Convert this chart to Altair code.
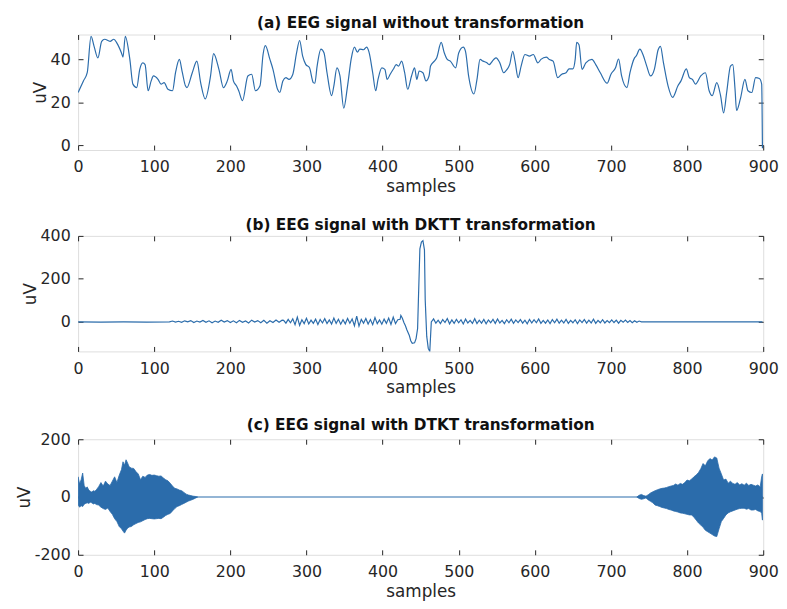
import altair as alt
import pandas as pd

FONT = "DejaVu Sans"
LINE = "#2b6cab"
INK = "#262626"
W, H = 694, 117

# ---------------- data ----------------
a_x = [0, 7, 12, 17, 21, 26, 31, 35, 42, 47, 51, 57, 59, 62, 68, 72, 77, 81, 85, 88,
       92, 96, 99, 105, 109, 113, 118, 124, 128, 133, 137, 141, 143, 150, 156, 161, 167, 174, 178, 185,
       191, 196, 201, 204, 208, 211, 216, 223, 228, 233, 239, 243, 246, 252, 256, 262, 265, 269, 273, 277,
       282, 287, 291, 295, 299, 304, 309, 311, 314, 319, 323, 327, 333, 336, 340, 344, 349, 354, 359, 363,
       367, 370, 375, 379, 382, 387, 391, 394, 399, 403, 406, 410, 414, 418, 421, 425, 429, 433, 438, 442,
       445, 448, 453, 457, 461, 463, 468, 471, 477, 481, 485, 489, 496, 500, 506, 509, 513, 520, 524, 528,
       532, 537, 540, 546, 549, 554, 559, 563, 567, 571, 574, 578, 582, 587, 593, 598, 604, 608, 615, 619,
       624, 630, 635, 641, 645, 650, 653, 655, 658, 662, 667, 675, 680, 686, 695, 700, 706, 710, 714, 721,
       725, 731, 733, 738, 742, 747, 752, 757, 762, 765, 769, 775, 781, 788, 792, 799, 803, 807, 811, 818,
       824, 829, 833, 839, 844, 848, 852, 857, 860, 863, 865, 870, 876, 880, 885, 890, 895, 898, 899]
a_y = [24.5, 29.9, 33.7, 50.6, 46.0, 40.6, 48.3, 49.3, 48.3, 49.3, 47.5, 42.9, 41.0, 50.6, 39.9, 28.4, 26.8, 35.3, 38.3, 37.5,
       25.3, 29.9, 32.2, 30.6, 28.4, 29.1, 26.0, 25.3, 33.7, 39.9, 33.7, 27.6, 26.8, 33.7, 39.1, 29.1, 21.5, 32.2, 42.6, 35.3,
       26.8, 29.9, 35.3, 29.9, 27.6, 25.3, 20.7, 32.2, 33.0, 25.3, 27.6, 42.2, 46.3, 39.9, 35.3, 26.0, 24.5, 29.9, 31.4, 30.6,
       32.9, 42.9, 48.7, 41.4, 37.6, 36.0, 29.1, 28.8, 36.8, 44.7, 43.0, 33.7, 23.0, 27.6, 36.0, 32.2, 17.2, 27.6, 40.6, 45.6,
       43.3, 44.7, 44.4, 45.6, 43.5, 33.7, 25.3, 30.6, 36.0, 35.3, 30.6, 33.0, 35.3, 37.5, 36.8, 39.1, 33.7, 26.0, 32.2, 36.0,
       30.6, 34.5, 33.7, 29.9, 32.2, 36.8, 39.1, 40.6, 47.8, 43.0, 39.9, 39.1, 36.0, 42.9, 45.6, 43.5, 32.2, 23.8, 30.6, 39.9,
       39.1, 38.3, 37.5, 39.9, 40.6, 38.3, 33.7, 35.0, 37.6, 43.7, 39.1, 31.4, 36.8, 42.2, 41.4, 42.2, 38.3, 39.9, 41.0, 39.9,
       39.1, 31.4, 32.9, 33.7, 35.5, 35.5, 39.9, 47.8, 46.7, 35.3, 38.3, 39.9, 37.5, 33.7, 28.8, 33.0, 36.0, 40.1, 32.2, 26.8,
       33.7, 40.6, 41.4, 44.7, 42.2, 36.8, 32.2, 35.3, 44.4, 46.0, 38.3, 27.6, 22.2, 27.6, 29.9, 35.5, 31.4, 30.6, 28.4, 32.2,
       33.7, 25.3, 23.0, 29.1, 23.0, 15.0, 24.5, 36.8, 37.5, 26.0, 16.1, 21.5, 30.6, 25.3, 24.5, 31.4, 31.0, 28.4, -1.5]

# panel (b): sample indices and values, segment by segment
b_flat1_x = [0, 30, 60, 90, 120]
b_flat1_y = [-2, -3, -2, -3, -2]
b_low_start, b_low_step = 124, 4
b_low_y = [2, -3, 1, -4, 3, -2, 4, -5, 2, -3, 5, -4, 3, -6, 2, -4, 6, -3, 4, -5,
           3, -6, 5, -4, 2, -7, 6, -3, 4, -6, 5, -8, 3, -5, 7, -4, 6]
b_mid_start, b_mid_step = 270, 3
b_mid_y = [5, -8, 10, -6, 12, -15, 20, -18, 8, -10, 15, -12, 6, -9, 11, -14, 9, -7, 13, -10,
           7, -12, 16, -9, 10, -13, 8, -11, 14, -8, 12, -20, 25, -22, 10, -8, 14, -12, 9, -15,
           18, -10, 7, -13, 11, -9, 16, -14, 20, -10, 8]
b_spike_x = [423, 424, 426, 428, 430, 432, 435, 437, 439, 442, 444, 446, 447, 449, 451, 453, 455, 456, 458, 460, 462, 464]
b_spike_y = [10, 28, 15, -5, -20, -40, -64, -90, -102, -100, -80, -33, 95, 340, 371, 378, 335, 100, -70, -126, -140, -2]
b_tail_start, b_tail_step = 467, 3
b_tail_y = [12, -8, 6, -10, 9, -5, 14, -11, 7, -9, 10, -6, 8, -12, 11, -7, 5, -9, 13, -10,
            6, -8, 9, -11, 7, -6, 10, -9, 12, -7, 5, -10, 8, -6, 11, -9, 7, -5, 9, -8,
            6, -11, 10, -7, 8, -6, 12, -9, 5, -8, 7, -10, 9, -6, 11, -8, 6, -7, 10, -9,
            5, -6, 8, -10, 7, -5, 9, -8, 6, -7, 11, -9, 5, -6, 8, -7, 4, -6, 7, -5,
            6, -8, 5, -4, 6, -5, 4, -6, 3, -4, 2]
b_flat2_x = [740, 800, 860, 899]
b_flat2_y = [-2, -2, -2, -2]

# panel (c): upper and lower envelope of the two dense bursts, and the flat stretch
c1_x = [0, 2, 4, 6, 8, 10, 12, 14, 16, 18, 20, 22, 24, 27, 30, 33, 36, 39, 42, 45,
        48, 51, 54, 57, 59, 61, 63, 65, 67, 70, 73, 76, 79, 82, 85, 88, 91, 94, 97, 100,
        103, 106, 109, 112, 115, 118, 121, 124, 127, 130, 133, 136, 139, 142, 145, 148, 151, 154, 157]
c1_hi = [70, 45, 60, 83, 40, 30, 35, 24, 20, 17, 22, 20, 25, 36, 50, 38, 55, 45, 40, 55,
         70, 50, 75, 95, 122, 110, 129, 118, 105, 100, 99, 88, 80, 60, 72, 68, 76, 78, 75, 76,
         74, 72, 73, 66, 60, 56, 48, 38, 30, 28, 24, 22, 16, 10, 7, 5, 3, 2, 0]
c1_lo = [-28, -35, -30, -33, -25, -22, -20, -22, -18, -20, -24, -22, -26, -28, -35, -40, -43, -38, -50, -60,
         -75, -85, -102, -110, -118, -125, -115, -108, -104, -102, -96, -92, -88, -86, -82, -78, -75, -74, -75, -76,
         -75, -74, -75, -70, -64, -60, -57, -48, -40, -33, -30, -26, -22, -18, -14, -11, -8, -4, 0]
c2_x = [734, 737, 740, 743, 746, 749, 752, 755, 758, 761, 764, 767, 770,
        773, 776, 779, 782, 785, 788, 791, 794, 797, 800, 803, 806, 809, 812, 815, 818, 821, 824,
        827, 830, 833, 836, 839, 842, 845, 848, 851, 854, 857, 860, 863, 866, 869, 872, 875, 878,
        881, 884, 887, 890, 893, 896, 898, 899]
c2_hi = [0, 6, 9, 5, 3, 8, 14, 18, 22, 25, 28, 30, 31,
         33, 36, 38, 40, 45, 41, 47, 44, 50, 59, 56, 62, 70, 76, 85, 98, 116, 108,
         125, 133, 128, 139, 135, 100, 80, 59, 62, 48, 55, 47, 44, 50, 42, 46, 41, 48,
         40, 44, 41, 38, 42, 35, 70, 80]
c2_lo = [0, -5, -8, -6, -3, -10, -15, -20, -28, -30, -33, -36, -38,
         -40, -43, -45, -48, -50, -52, -55, -56, -58, -60, -62, -62, -70, -80, -90, -97, -105, -115,
         -120, -125, -130, -135, -137, -110, -85, -74, -62, -55, -51, -48, -45, -42, -40, -39, -39, -42,
         -40, -45, -45, -43, -48, -50, -56, -80]
c_flat_x = [0, 900]
c_flat_y = [0, 0]

x_ticks = [0, 100, 200, 300, 400, 500, 600, 700, 800, 900]
titles = ["(a) EEG signal without transformation",
          "(b) EEG signal with DKTT transformation",
          "(c) EEG signal with DTKT transformation"]

# ---------------- tables ----------------
df_a = pd.DataFrame({"s": a_x, "v": a_y})

bx, by = list(b_flat1_x), list(b_flat1_y)
bx += [b_low_start + i * b_low_step for i in range(len(b_low_y))]; by += b_low_y
bx += [b_mid_start + i * b_mid_step for i in range(len(b_mid_y))]; by += b_mid_y
bx += b_spike_x; by += b_spike_y
bx += [b_tail_start + i * b_tail_step for i in range(len(b_tail_y))]; by += b_tail_y
bx += b_flat2_x; by += b_flat2_y
df_b = pd.DataFrame({"s": bx, "v": by})

df_c_area = pd.concat([
    pd.DataFrame({"s": c1_x, "hi": c1_hi, "lo": c1_lo, "g": "b1"}),
    pd.DataFrame({"s": c2_x, "hi": c2_hi, "lo": c2_lo, "g": "b2"}),
])
df_c_flat = pd.DataFrame({"s": c_flat_x, "v": c_flat_y})

# ---------------- axes ----------------
def ax_common(**kw):
    base = dict(offset=-5, tickSize=5, tickColor=INK, tickWidth=1, domain=False, grid=False,
                labelFont=FONT, labelFontSize=16, labelColor=INK, labelFlush=False,
                labelExpr="toString(datum.value)",
                titleFont=FONT, titleFontSize=17, titleFontWeight="normal", titleColor=INK)
    base.update(kw)
    return alt.Axis(**base)

def x_bottom():
    return ax_common(orient="bottom", values=x_ticks, labelPadding=9, title="samples", titlePadding=4)

def x_top():
    return ax_common(orient="top", values=x_ticks, labels=False, title=None)

def y_left(vals):
    return ax_common(orient="left", values=vals, labelPadding=8, title="uV", titlePadding=1)

def y_right(vals):
    return ax_common(orient="right", values=vals, labels=False, title=None)

xscale = alt.Scale(domain=[0, 900], nice=False, zero=False)

def panel(layers_fn, ydomain, yvals, title, ghost_df, toff):
    yscale = alt.Scale(domain=ydomain, nice=False, zero=False)
    main = layers_fn(yscale)
    ghost = alt.Chart(ghost_df).mark_line(opacity=0).encode(
        x=alt.X("s:Q", scale=xscale, axis=x_top()),
        y=alt.Y("v:Q", scale=yscale, axis=y_right(yvals)),
    )
    return alt.layer(main, ghost).resolve_axis(x="independent", y="independent").properties(
        width=W, height=H,
        title=alt.TitleParams(title, font=FONT, fontSize=15.5, fontWeight="bold", color="#111111",
                              anchor="middle", offset=toff),
    )

def a_layers(ys):
    return alt.Chart(df_a).mark_line(color=LINE, strokeWidth=1.2, clip=True, interpolate="monotone").encode(
        x=alt.X("s:Q", scale=xscale, axis=x_bottom()),
        y=alt.Y("v:Q", scale=ys, axis=y_left([0, 20, 40])),
    )

def b_layers(ys):
    return alt.Chart(df_b).mark_line(color=LINE, strokeWidth=1.2, clip=True).encode(
        x=alt.X("s:Q", scale=xscale, axis=x_bottom()),
        y=alt.Y("v:Q", scale=ys, axis=y_left([0, 200, 400])),
    )

def c_layers(ys):
    flat = alt.Chart(df_c_flat).mark_line(color=LINE, strokeWidth=1.2, clip=True).encode(
        x=alt.X("s:Q", scale=xscale, axis=x_bottom()),
        y=alt.Y("v:Q", scale=ys, axis=y_left([-200, 0, 200])),
    )
    area = alt.Chart(df_c_area).mark_area(color=LINE, opacity=1, clip=True,
                                          stroke=LINE, strokeWidth=0.8).encode(
        x=alt.X("s:Q", scale=xscale),
        y=alt.Y("hi:Q", scale=ys),
        y2="lo:Q",
        detail="g:N",
    )
    return alt.layer(flat, area)

pa = panel(a_layers, [-2.3, 51.5], [0, 20, 40], titles[0], df_a, 3)
pb = panel(b_layers, [-140, 400], [0, 200, 400], titles[1], df_b, -6)
pc = panel(c_layers, [-200, 200], [-200, 0, 200], titles[2], df_c_flat, -2)

chart = alt.vconcat(alt.vconcat(pa, pb, spacing=23), pc, spacing=21).configure_view(
    stroke=INK, strokeWidth=1.2, fill="white"
).configure(background="white", padding={"left": 7, "top": 3, "right": 0, "bottom": 0})

chart.save("out.html", embed_options={"renderer": "svg", "actions": False})
